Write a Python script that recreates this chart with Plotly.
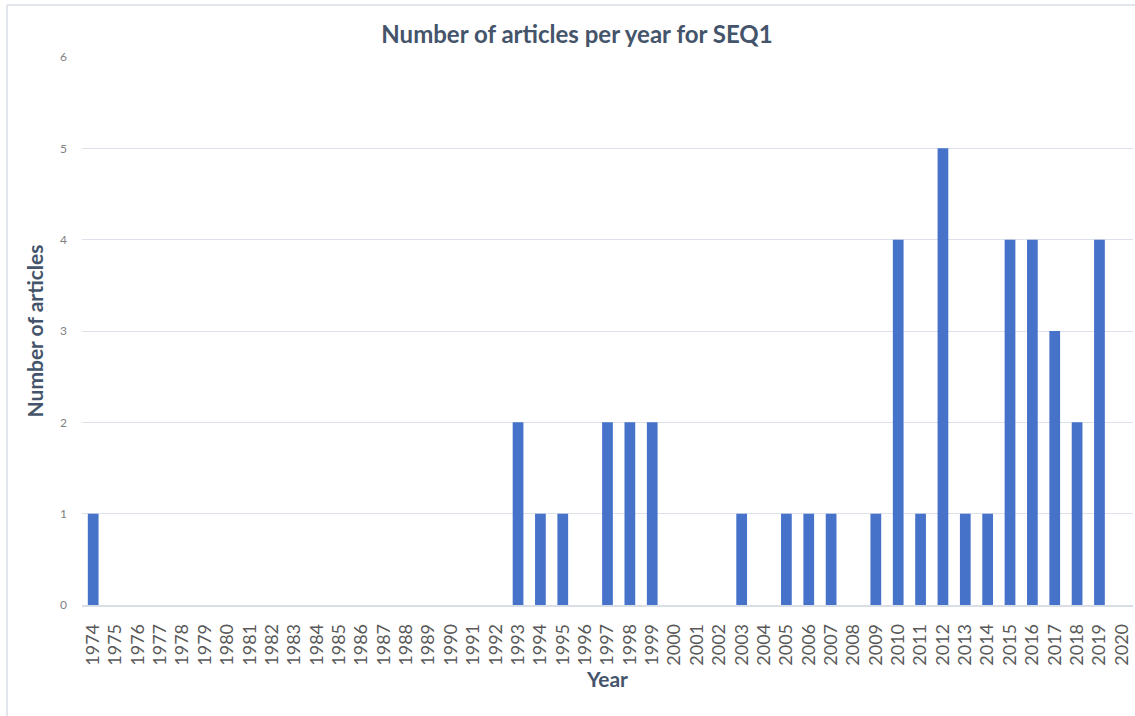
import plotly.graph_objects as go

years = [str(y) for y in range(1974, 2021)]
counts_by_year = {
    "1974": 1, "1993": 2, "1994": 1, "1995": 1, "1997": 2, "1998": 2, "1999": 2,
    "2003": 1, "2005": 1, "2006": 1, "2007": 1, "2009": 1, "2010": 4, "2011": 1,
    "2012": 5, "2013": 1, "2014": 1, "2015": 4, "2016": 4, "2017": 3, "2018": 2,
    "2019": 4,
}
counts = [counts_by_year.get(y, 0) for y in years]
y_ticks = [0, 1, 2, 3, 4, 5, 6]

W, H = 1135, 716
L, R, T, B = 82, 2, 57, 111

fig = go.Figure(go.Bar(
    x=years, y=counts,
    marker=dict(color="#4672CA", line=dict(width=0)),
    width=0.48,
))

pw = W - L - R
ph = H - T - B
def px(x):
    return (x - L) / pw
def py(y):
    return (H - B - y) / ph

fig.update_layout(
    width=W, height=H,
    margin=dict(l=L, r=R, t=T, b=B),
    paper_bgcolor="white", plot_bgcolor="white",
    font=dict(family="Lato, Open Sans, sans-serif", color="#595959"),
    title=dict(text="<b>Number of articles per year for SEQ1</b>",
               x=577 / W, xref="container", xanchor="center",
               y=1 - 35 / H, yanchor="middle",
               font=dict(size=24, color="#44546A")),
    showlegend=False,
    xaxis=dict(
        type="category", tickangle=-90, tickfont=dict(size=18, color="#595959"),
        showgrid=False, showline=True, linecolor="#D9DEE6", linewidth=1.5,
        ticks="", range=[-0.5, len(years) - 0.5], ticklabelstandoff=10,
        title=dict(text="<b>Year</b>", font=dict(size=21, color="#44546A"), standoff=8),
    ),
    yaxis=dict(
        range=[0, 6], tickvals=y_ticks, tickfont=dict(size=12, color="#7F7F7F"),
        showgrid=True, gridcolor="#DCE1EA", gridwidth=1, zeroline=False,
        ticks="", ticklabelstandoff=14,
        title=dict(text="<b>Number of articles</b>", font=dict(size=21, color="#44546A"), standoff=10),
    ),
    shapes=[
        dict(type="line", xref="paper", yref="paper", x0=px(7), x1=px(W + 5), y0=py(5), y1=py(5),
             line=dict(color="#D9DEE6", width=1.5)),
        dict(type="line", xref="paper", yref="paper", x0=px(7), x1=px(7), y0=py(5), y1=py(H + 5),
             line=dict(color="#D9DEE6", width=1.5)),
    ],
)

fig.write_html("out.html")
